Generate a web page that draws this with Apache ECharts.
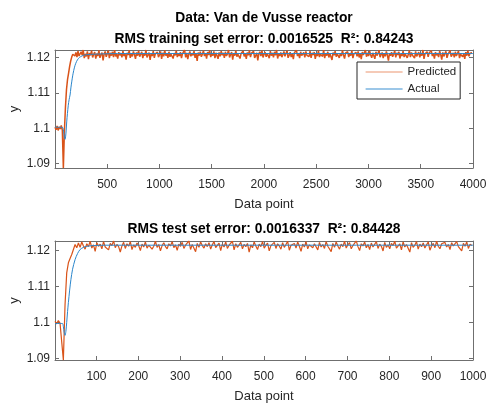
<!DOCTYPE html>
<html><head><meta charset="utf-8">
<script src="https://cdn.jsdelivr.net/npm/echarts@6/dist/echarts.min.js"></script>
<style>html,body{margin:0;padding:0;background:#fff}#c{width:486px;height:403px}</style>
</head><body><div id="c"></div>
<script>
// ---------- data ----------
const topXTicks = [500,1000,1500,2000,2500,3000,3500,4000];
const botXTicks = [100,200,300,400,500,600,700,800,900,1000];
const yTicks = [1.09,1.1,1.11,1.12];

// Actual (smooth reference curve), training set
const actTopX = [1,60,75,84,90,97,103,108,113,120,128,136,145,153,161,170,180,193,208,225,245,273,310,368,450,600,4000];
const actTopY = [1.1003,1.1003,1.1002,1.0990,1.0976,1.0969,1.0978,1.0995,1.1018,1.1042,1.1065,1.1081,1.1094,1.1114,1.1131,1.1148,1.1163,1.1178,1.1189,1.1197,1.1202,1.1206,1.1208,1.1209,1.1210,1.1211,1.1211];

// Predicted, training set: one value every 10 data points starting at 1
const predTopStep = 10;
const predTop = [
1.1003,1.0996,1.1007,1.0994,1.1004,1.0998,1.1008,1.0995,1.0888,1.0992,1.1060,1.1110,1.1138,1.1156,1.1175,1.1190,1.1201,1.1209,1.1214,1.1204,
1.1214,1.1201,1.1218,1.1204,1.1199,1.1216,1.1207,1.1221,1.1198,1.1210,1.1203,1.1217,1.1195,1.1212,1.1206,1.1219,1.1200,1.1209,1.1215,1.1197,
1.1211,1.1204,1.1220,1.1199,1.1208,1.1214,1.1192,1.1210,1.1217,1.1202,1.1206,1.1219,1.1198,1.1213,1.1205,1.1216,1.1201,1.1221,1.1203,1.1209,
1.1197,1.1215,1.1206,1.1212,1.1200,1.1218,1.1204,1.1210,1.1194,1.1213,1.1207,1.1220,1.1199,1.1211,1.1203,1.1217,1.1208,1.1196,1.1214,1.1205,
1.1219,1.1202,1.1209,1.1216,1.1198,1.1212,1.1205,1.1221,1.1200,1.1207,1.1214,1.1193,1.1211,1.1204,1.1218,1.1199,1.1210,1.1206,1.1215,1.1201,
1.1208,1.1217,1.1196,1.1213,1.1203,1.1220,1.1205,1.1211,1.1199,1.1216,1.1202,1.1209,1.1214,1.1197,1.1212,1.1206,1.1219,1.1201,1.1210,1.1204,
1.1215,1.1198,1.1211,1.1207,1.1221,1.1200,1.1213,1.1195,1.1209,1.1217,1.1203,1.1212,1.1206,1.1218,1.1199,1.1210,1.1190,1.1214,1.1205,1.1216,
1.1202,1.1209,1.1219,1.1204,1.1212,1.1197,1.1215,1.1207,1.1220,1.1201,1.1211,1.1205,1.1217,1.1198,1.1213,1.1208,1.1196,1.1214,1.1203,1.1218,
1.1206,1.1213,1.1199,1.1216,1.1204,1.1210,1.1221,1.1200,1.1208,1.1215,1.1194,1.1212,1.1205,1.1219,1.1202,1.1209,1.1214,1.1197,1.1211,1.1207,
1.1218,1.1203,1.1210,1.1196,1.1214,1.1206,1.1220,1.1201,1.1212,1.1208,1.1217,1.1199,1.1205,1.1213,1.1192,1.1210,1.1216,1.1204,1.1219,1.1200,
1.1209,1.1215,1.1202,1.1211,1.1207,1.1198,1.1218,1.1205,1.1213,1.1200,1.1216,1.1206,1.1221,1.1197,1.1210,1.1204,1.1214,1.1201,1.1208,1.1217,
1.1203,1.1212,1.1219,1.1199,1.1206,1.1215,1.1201,1.1210,1.1195,1.1213,1.1208,1.1220,1.1204,1.1211,1.1198,1.1216,1.1205,1.1209,1.1214,1.1200,
1.1217,1.1206,1.1210,1.1202,1.1218,1.1199,1.1213,1.1207,1.1215,1.1196,1.1211,1.1204,1.1219,1.1201,1.1209,1.1214,1.1203,1.1221,1.1198,1.1212,
1.1205,1.1216,1.1200,1.1211,1.1208,1.1193,1.1214,1.1206,1.1218,1.1202,1.1210,1.1215,1.1199,1.1212,1.1204,1.1220,1.1207,1.1197,1.1213,1.1209,
1.1216,1.1201,1.1212,1.1205,1.1219,1.1198,1.1210,1.1206,1.1214,1.1203,1.1217,1.1200,1.1211,1.1195,1.1215,1.1207,1.1209,1.1221,1.1202,1.1213,
1.1204,1.1218,1.1207,1.1199,1.1213,1.1210,1.1196,1.1216,1.1205,1.1211,1.1220,1.1201,1.1208,1.1214,1.1198,1.1212,1.1203,1.1217,1.1206,1.1191,
1.1212,1.1205,1.1215,1.1202,1.1209,1.1219,1.1200,1.1213,1.1207,1.1216,1.1197,1.1211,1.1204,1.1218,1.1201,1.1210,1.1214,1.1199,1.1208,1.1220,
1.1201,1.1214,1.1206,1.1211,1.1198,1.1217,1.1203,1.1209,1.1215,1.1200,1.1212,1.1205,1.1221,1.1196,1.1210,1.1207,1.1216,1.1202,1.1213,1.1208,
1.1219,1.1204,1.1210,1.1197,1.1215,1.1206,1.1212,1.1201,1.1218,1.1208,1.1194,1.1214,1.1203,1.1211,1.1217,1.1199,1.1209,1.1205,1.1220,1.1202,
1.1207,1.1213,1.1200,1.1216,1.1204,1.1211,1.1218,1.1198,1.1209,1.1214,1.1202,1.1210,1.1196,1.1215,1.1205,1.1219,1.1203,1.1212,1.1208,1.1213
];

// Actual, test set
const actBotX = [1,15,19,21,23,25,27,29,31,33,36,39,43,49,55,61,69,77,93,120,200,1000];
const actBotY = [1.0997,1.0997,1.0997,1.0988,1.0972,1.0964,1.0975,1.1000,1.1030,1.1055,1.1090,1.1119,1.1148,1.1175,1.1192,1.1203,1.1209,1.1212,1.1214,1.1215,1.1215,1.1215];

// Predicted, test set: one value every 4 data points starting at 1
const predBotStep = 4;
const predBot = [
1.1003,1.0996,1.1005,1.0998,1.1002,1.0895,1.1050,1.1138,1.1166,1.1178,1.1189,1.1203,1.1217,1.1208,
1.1221,1.1209,1.1224,1.1213,1.1204,1.1219,1.1211,1.1226,1.1207,1.1216,1.1198,1.1222,1.1212,1.1218,1.1205,1.1225,1.1210,1.1215,1.1202,1.1220,
1.1214,1.1227,1.1208,1.1217,1.1211,1.1196,1.1213,1.1223,1.1206,1.1219,1.1212,1.1225,1.1203,1.1216,1.1209,1.1221,1.1214,1.1200,1.1218,1.1210,
1.1224,1.1207,1.1215,1.1220,1.1204,1.1212,1.1226,1.1209,1.1217,1.1199,1.1214,1.1222,1.1211,1.1205,1.1219,1.1213,1.1225,1.1208,1.1216,1.1201,
1.1218,1.1212,1.1223,1.1206,1.1215,1.1210,1.1227,1.1203,1.1217,1.1213,1.1197,1.1220,1.1209,1.1224,1.1214,1.1207,1.1219,1.1211,1.1222,1.1204,
1.1216,1.1225,1.1208,1.1213,1.1221,1.1200,1.1218,1.1210,1.1224,1.1206,1.1215,1.1212,1.1226,1.1202,1.1219,1.1209,1.1214,1.1223,1.1205,1.1217,
1.1211,1.1220,1.1196,1.1216,1.1208,1.1224,1.1213,1.1203,1.1218,1.1211,1.1225,1.1207,1.1215,1.1221,1.1199,1.1214,1.1210,1.1223,1.1206,1.1219,
1.1213,1.1204,1.1222,1.1209,1.1217,1.1226,1.1201,1.1215,1.1211,1.1220,1.1207,1.1224,1.1212,1.1198,1.1218,1.1210,1.1225,1.1205,1.1216,1.1221,
1.1208,1.1219,1.1214,1.1202,1.1223,1.1210,1.1217,1.1206,1.1225,1.1212,1.1215,1.1197,1.1220,1.1209,1.1224,1.1213,1.1204,1.1218,1.1211,1.1226,
1.1207,1.1216,1.1222,1.1205,1.1214,1.1209,1.1227,1.1211,1.1200,1.1219,1.1213,1.1224,1.1208,1.1217,1.1203,1.1221,1.1210,1.1215,1.1225,1.1206,
1.1218,1.1212,1.1199,1.1223,1.1209,1.1216,1.1205,1.1220,1.1214,1.1226,1.1207,1.1211,1.1219,1.1202,1.1224,1.1210,1.1217,1.1213,1.1196,1.1222,
1.1209,1.1215,1.1225,1.1204,1.1218,1.1211,1.1221,1.1207,1.1216,1.1224,1.1201,1.1213,1.1220,1.1208,1.1226,1.1212,1.1205,1.1219,1.1214,1.1223,
1.1210,1.1217,1.1203,1.1222,1.1213,1.1208,1.1225,1.1211,1.1216,1.1199,1.1220,1.1212,1.1224,1.1206,1.1218,1.1214
];

// ---------- chart ----------
const FONT = 'Liberation Sans, Arial, Helvetica, sans-serif';
const AXC = '#6f6f6f', TXT = '#262626';
const ORANGE = '#D95319', BLUE = '#2A86CC';

const pairs = (xs, ys) => ys.map((v, i) => [xs[i], v]);
const stepped = (ys, step) => ys.map((v, i) => [1 + i * step, v]);
const fmt = v => String(+(+v).toFixed(4));

function xAx(gi, min, max, ticks, pos, main) {
  return {
    type: 'value', gridIndex: gi, min: min, max: max, position: pos,
    axisLine: {show: true, onZero: false, lineStyle: {color: AXC, width: 1}},
    axisTick: {show: true, inside: true, length: 4, customValues: ticks, lineStyle: {color: AXC, width: 1}},
    axisLabel: {show: main, customValues: ticks, formatter: fmt, color: TXT, fontSize: 12, fontFamily: FONT, margin: 11},
    splitLine: {show: false},
    name: main ? 'Data point' : '', nameLocation: 'middle', nameGap: 30, nameMoveOverlap: false,
    nameTextStyle: {color: TXT, fontSize: 13, fontFamily: FONT}
  };
}
function yAx(gi, min, max, pos, main) {
  return {
    type: 'value', gridIndex: gi, min: min, max: max, position: pos,
    axisLine: {show: true, onZero: false, lineStyle: {color: AXC, width: 1}},
    axisTick: {show: true, inside: true, length: 4, customValues: yTicks, lineStyle: {color: AXC, width: 1}},
    axisLabel: {show: main, customValues: yTicks, formatter: fmt, color: TXT, fontSize: 12, fontFamily: FONT, margin: 5},
    splitLine: {show: false},
    name: main ? 'y' : '', nameLocation: 'middle', nameGap: 34, nameMoveOverlap: false,
    nameTextStyle: {color: TXT, fontSize: 13, fontFamily: FONT}
  };
}

const chart = echarts.init(document.getElementById('c'), null, {renderer: 'canvas'});
chart.setOption({
  animation: false,
  backgroundColor: '#fff',
  title: [
    {text: 'Data: Van de Vusse reactor', left: 264, top: 18, padding: 0, textAlign: 'center', textVerticalAlign: 'middle',
     textStyle: {fontSize: 13.8, fontWeight: 'bold', color: '#000', fontFamily: FONT}},
    {text: 'RMS training set error: 0.0016525  R\u00B2: 0.84243', left: 264, top: 39.5, padding: 0, textAlign: 'center', textVerticalAlign: 'middle',
     textStyle: {fontSize: 13.8, fontWeight: 'bold', color: '#000', fontFamily: FONT}},
    {text: 'RMS test set error: 0.0016337  R\u00B2: 0.84428', left: 264, top: 229.5, padding: 0, textAlign: 'center', textVerticalAlign: 'middle',
     textStyle: {fontSize: 13.8, fontWeight: 'bold', color: '#000', fontFamily: FONT}}
  ],
  grid: [
    {left: 55, right: 13, top: 50, height: 118, outerBoundsMode: 'none', containLabel: false},
    {left: 55, right: 13, top: 241, height: 119, outerBoundsMode: 'none', containLabel: false}
  ],
  xAxis: [
    xAx(0, 1, 4000, topXTicks, 'bottom', true),
    xAx(0, 1, 4000, topXTicks, 'top', false),
    xAx(1, 1, 1000, botXTicks, 'bottom', true),
    xAx(1, 1, 1000, botXTicks, 'top', false)
  ],
  yAxis: [
    yAx(0, 1.0888, 1.1221, 'left', true),
    yAx(0, 1.0888, 1.1221, 'right', false),
    yAx(1, 1.08953, 1.12267, 'left', true),
    yAx(1, 1.08953, 1.12267, 'right', false)
  ],
  legend: {
    left: 357, top: 62, orient: 'vertical',
    backgroundColor: '#fff', borderColor: '#262626', borderWidth: 1, borderRadius: 0,
    padding: [3, 4, 3, 8], itemGap: 3, itemWidth: 37, itemHeight: 14,
    itemStyle: {opacity: 0},
    textStyle: {color: TXT, fontSize: 11.5, fontFamily: FONT, lineHeight: 14},
    data: [
      {name: 'Predicted', lineStyle: {color: '#EC9670', width: 1.2}, itemStyle: {opacity: 0}},
      {name: 'Actual', lineStyle: {color: '#3A90D2', width: 1.2}, itemStyle: {opacity: 0}}
    ]
  },
  series: [
    {name: 'Predicted', type: 'line', xAxisIndex: 0, yAxisIndex: 0, data: stepped(predTop, predTopStep),
     symbol: 'none', showSymbol: false, lineStyle: {color: ORANGE, width: 1.5}, itemStyle: {color: ORANGE}, z: 2},
    {name: 'Actual', type: 'line', xAxisIndex: 0, yAxisIndex: 0, data: pairs(actTopX, actTopY), smooth: 0.3,
     symbol: 'none', showSymbol: false, lineStyle: {color: BLUE, width: 1}, itemStyle: {color: BLUE}, z: 3},
    {name: 'Predicted', type: 'line', xAxisIndex: 2, yAxisIndex: 2, data: stepped(predBot, predBotStep),
     symbol: 'none', showSymbol: false, lineStyle: {color: ORANGE, width: 1.2}, itemStyle: {color: ORANGE}, z: 2},
    {name: 'Actual', type: 'line', xAxisIndex: 2, yAxisIndex: 2, data: pairs(actBotX, actBotY), smooth: 0.3,
     symbol: 'none', showSymbol: false, lineStyle: {color: BLUE, width: 1}, itemStyle: {color: BLUE}, z: 3}
  ]
});
</script>
</body></html>
